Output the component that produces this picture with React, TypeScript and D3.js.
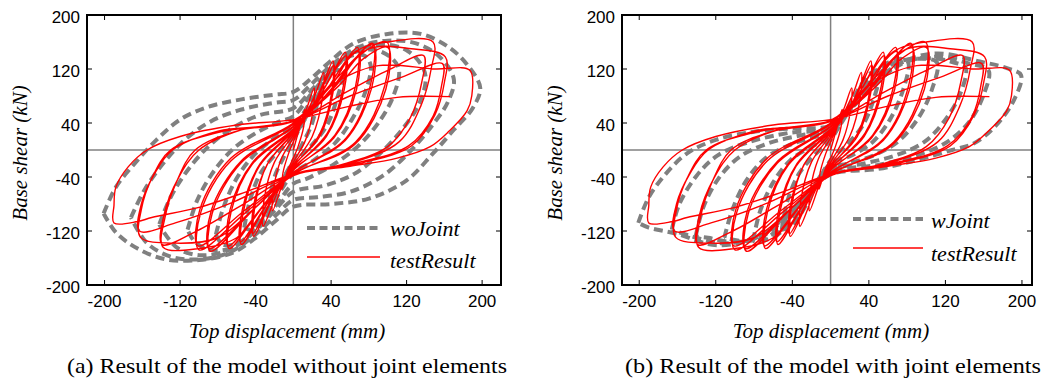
import React from "react";
import * as d3 from "d3";

type Pt = [number, number];

// tick values shared by both panels
const xTicks = [-200, -120, -40, 40, 120, 200];
const yTicks = [-200, -120, -40, 40, 120, 200];

// measured test result (same in both panels), one array per cycle, in drawing order
const testResult: Pt[][] = [
  [[0, 0], [6, 30], [12, 60], [11, 35], [5, 5], [0, -12], [-6, -30], [-12, -58], [-11, -34], [-5, -5], [0, 12]],
  [[8, 40], [15, 65], [22, 92], [21, 60], [13, 15], [0, -18], [-10, -45], [-22, -90], [-21, -58], [-13, -14], [0, 18]],
  [[14, 55], [24, 85], [32, 115], [31, 78], [20, 20], [0, -22], [-16, -60], [-32, -113], [-31, -74], [-20, -18], [0, 22]],
  [[20, 62], [32, 100], [42, 132], [41, 88], [28, 24], [0, -25], [-20, -66], [-42, -128], [-41, -86], [-28, -22], [0, 25]],
  [[22, 68], [34, 102], [43, 126], [42, 85], [28, 20], [0, -24], [-22, -70], [-43, -124], [-42, -82], [-27, -20], [0, 26]],
  [[26, 75], [42, 115], [55, 145], [53, 95], [36, 25], [0, -28], [-26, -76], [-55, -140], [-53, -92], [-36, -24], [0, 28]],
  [[28, 80], [44, 118], [56, 140], [54, 90], [35, 20], [0, -27], [-28, -80], [-56, -136], [-54, -88], [-35, -20], [0, 29]],
  [[32, 82], [52, 125], [68, 152], [66, 95], [44, 22], [0, -30], [-32, -82], [-68, -146], [-66, -92], [-44, -22], [0, 30]],
  [[34, 86], [54, 128], [69, 146], [67, 90], [43, 18], [0, -29], [-34, -86], [-69, -142], [-67, -88], [-43, -18], [0, 31]],
  [[40, 90], [62, 130], [84, 158], [82, 98], [56, 18], [0, -34], [-42, -88], [-88, -150], [-86, -94], [-56, -20], [0, 34]],
  [[42, 92], [64, 132], [85, 152], [83, 92], [55, 14], [0, -33], [-44, -90], [-89, -146], [-87, -90], [-55, -16], [0, 35]],
  [[45, 95], [70, 140], [99, 160], [97, 96], [66, 12], [0, -36], [-50, -92], [-100, -148], [-98, -92], [-66, -16], [0, 38]],
  [[48, 95], [74, 135], [100, 152], [98, 90], [65, 8], [0, -35], [-52, -90], [-101, -142], [-99, -88], [-66, -12], [0, 40]],
  [[40, 95], [65, 145], [100, 160], [148, 160], [146, 120], [135, 65], [112, 12], [60, -20], [0, -37], [-30, -80], [-60, -130],
    [-100, -146], [-138, -144], [-136, -100], [-124, -48], [-104, 0], [-60, 28], [0, 42]],
  [[55, 85], [100, 118], [138, 140], [136, 100], [124, 48], [100, 5], [50, -22], [0, -36], [-55, -82], [-105, -122],
    [-139, -140], [-137, -96], [-122, -42], [-100, 0], [-55, 30], [0, 43]],
  [[45, 105], [80, 150], [125, 150], [161, 138], [160, 100], [150, 52], [125, 6], [70, -20], [0, -38], [-40, -85],
    [-80, -130], [-125, -138], [-162, -129], [-161, -88], [-150, -42], [-130, 0], [-80, 26], [0, 43]],
  [[60, 80], [115, 108], [158, 128], [157, 95], [148, 50], [122, 6], [70, -18], [0, -36], [-65, -78], [-125, -108],
    [-163, -120], [-161, -80], [-147, -35], [-128, 0], [-80, 28], [0, 44]],
  [[45, 100], [90, 125], [150, 120], [187, 118], [189, 80], [184, 58], [165, 28], [145, 5], [110, -12], [60, -24],
    [0, -36], [-50, -62], [-100, -85], [-150, -100], [-165, -106], [-190, -108], [-190, -82], [-188, -55], [-175, -25],
    [-155, 0], [-120, 20], [-60, 37], [0, 45]],
  [[60, 65], [110, 78], [166, 79]],
];

// model without joint elements, one closed loop per amplitude
const woJoint: Pt[][] = [
  [[-201, -94], [-188, -55], [-168, -20], [-145, 15], [-120, 45], [-90, 64], [-55, 75], [-20, 82], [0, 86], [18, 105],
    [38, 130], [64, 158], [100, 172], [135, 172], [165, 152], [185, 125], [198, 92], [190, 62], [170, 30], [148, -5],
    [120, -45], [80, -72], [40, -80], [0, -84], [-18, -104], [-38, -128], [-64, -152], [-100, -163], [-135, -162],
    [-165, -146], [-188, -122], [-201, -94]],
  [[-172, -100], [-158, -60], [-138, -20], [-115, 15], [-88, 42], [-55, 60], [-20, 70], [0, 74], [18, 96], [40, 125],
    [68, 152], [100, 162], [130, 158], [155, 138], [170, 105], [164, 72], [148, 38], [125, 0], [95, -38], [60, -62],
    [25, -70], [0, -74], [-18, -96], [-40, -125], [-68, -152], [-100, -162], [-130, -158], [-155, -138], [-172, -100]],
  [[-142, -110], [-130, -70], [-112, -30], [-90, 5], [-65, 32], [-35, 52], [0, 62], [20, 90], [42, 122], [68, 148],
    [98, 156], [122, 146], [138, 120], [140, 100], [132, 65], [115, 30], [92, -5], [65, -35], [35, -52], [0, -62],
    [-20, -90], [-42, -122], [-68, -148], [-98, -156], [-122, -146], [-138, -120], [-142, -110]],
  [[-112, -118], [-102, -75], [-86, -35], [-65, 0], [-40, 25], [-15, 42], [0, 50], [20, 85], [42, 120], [65, 145],
    [88, 148], [105, 135], [112, 118], [106, 80], [90, 40], [68, 5], [42, -22], [15, -42], [0, -50], [-20, -85],
    [-42, -120], [-65, -145], [-88, -148], [-105, -135], [-112, -118]],
  [[-82, -125], [-74, -85], [-60, -42], [-42, -8], [-20, 18], [0, 35], [20, 75], [38, 112], [58, 138], [75, 140],
    [82, 125], [76, 85], [62, 45], [44, 10], [22, -15], [0, -35], [-20, -75], [-38, -112], [-58, -138], [-75, -140],
    [-82, -125]],
  [[-52, -115], [-46, -75], [-35, -35], [-18, -5], [0, 20], [18, 60], [32, 95], [45, 118], [52, 115], [46, 75],
    [35, 35], [18, 5], [0, -20], [-18, -60], [-32, -95], [-45, -118], [-52, -115]],
  [[-26, -80], [-20, -40], [-8, -5], [8, 35], [20, 65], [26, 80], [20, 40], [8, 5], [-8, -35], [-20, -65], [-26, -80]],
];

// model with joint elements
const wJoint: Pt[][] = [
  [[-201, -108], [-190, -70], [-172, -35], [-150, -5], [-120, 15], [-80, 27], [-40, 32], [0, 36], [20, 60], [45, 95],
    [75, 130], [111, 143], [156, 131], [185, 121], [199, 111], [192, 75], [172, 35], [150, 10], [127, 0], [90, -15],
    [50, -28], [0, -36], [-20, -60], [-45, -95], [-75, -128], [-119, -141], [-161, -124], [-190, -115], [-201, -108]],
  [[-166, -118], [-158, -80], [-140, -38], [-118, -8], [-85, 12], [-45, 25], [0, 33], [22, 62], [48, 100], [78, 130],
    [115, 138], [145, 128], [165, 118], [160, 82], [145, 42], [122, 12], [90, -8], [50, -22], [0, -33], [-22, -62],
    [-48, -100], [-78, -130], [-115, -138], [-145, -128], [-166, -118]],
  [[-141, -128], [-133, -85], [-117, -42], [-95, -10], [-65, 10], [-30, 22], [0, 30], [22, 62], [48, 102], [75, 130],
    [105, 136], [128, 130], [141, 122], [136, 85], [120, 45], [98, 12], [68, -8], [35, -20], [0, -30], [-22, -62],
    [-48, -102], [-75, -130], [-105, -136], [-128, -130], [-141, -128]],
  [[-111, -130], [-103, -90], [-88, -45], [-68, -12], [-42, 8], [-15, 20], [0, 26], [20, 60], [42, 100], [65, 128],
    [90, 135], [111, 130], [106, 90], [92, 48], [70, 12], [45, -8], [18, -20], [0, -26], [-20, -60], [-42, -100],
    [-65, -128], [-90, -135], [-111, -130]],
  [[-81, -135], [-74, -92], [-60, -48], [-42, -15], [-20, 5], [0, 20], [18, 55], [35, 95], [55, 125], [72, 135],
    [81, 130], [76, 90], [62, 45], [44, 12], [22, -8], [0, -20], [-18, -55], [-35, -95], [-55, -125], [-72, -135],
    [-81, -135]],
  [[-51, -118], [-45, -75], [-33, -35], [-15, -5], [0, 15], [16, 55], [30, 92], [43, 115], [51, 118], [45, 75],
    [33, 35], [15, 5], [0, -15], [-16, -55], [-30, -92], [-43, -115], [-51, -118]],
];

const modelNames = ["woJoint", "wJoint"];
const testName = "testResult";
const captions = [
  "(a) Result of the model without joint elements",
  "(b) Result of the model with joint elements",
];

const GRAY = "#808080";
const RED = "#ff0000";
const sans = "'Liberation Sans', Arial, sans-serif";
const serif = "'Liberation Serif', 'Times New Roman', serif";

type PanelProps = {
  x0: number; x1: number; xDomain: [number, number];
  model: Pt[][]; modelName: string; caption: string;
  yLabelX: number; yTitleX: number; titleCx: number; captionCx: number; captionLen: number;
  lg: { lx0: number; lx1: number; tx: number; dashY: number; redY: number; t1: number; t2: number };
  id: string;
};

const y0 = 15, y1 = 285;

function Panel(p: PanelProps) {
  const x = d3.scaleLinear().domain(p.xDomain).range([p.x0, p.x1]);
  const y = d3.scaleLinear().domain([-200, 200]).range([y1, y0]);
  const curve = d3.line<Pt>().x(d => x(d[0])).y(d => y(d[1])).curve(d3.curveCatmullRom.alpha(0.5));
  const redPts = testResult.flat() as Pt[];
  const tl = 5;
  return (
    <g>
      <defs>
        <clipPath id={p.id}>
          <rect x={p.x0} y={y0} width={p.x1 - p.x0} height={y1 - y0} />
        </clipPath>
      </defs>
      <g clipPath={`url(#${p.id})`}>
        <line x1={x(0)} x2={x(0)} y1={y0} y2={y1} stroke={GRAY} strokeWidth={1.5} />
        <line x1={p.x0} x2={p.x1} y1={y(0)} y2={y(0)} stroke={GRAY} strokeWidth={1.5} />
        {p.model.map((loop, i) => (
          <path key={i} d={curve(loop) || ""} fill="none" stroke={GRAY} strokeWidth={4} strokeDasharray="9 5" />
        ))}
        <path d={curve(redPts) || ""} fill="none" stroke={RED} strokeWidth={1.4} strokeLinejoin="round" />
      </g>
      {/* ticks */}
      {xTicks.map(t => (
        <g key={"x" + t}>
          <line x1={x(t)} x2={x(t)} y1={y1} y2={y1 - tl} stroke="#000" strokeWidth={1} />
          <line x1={x(t)} x2={x(t)} y1={y0} y2={y0 + tl} stroke="#000" strokeWidth={1} />
          <text x={x(t)} y={307} textAnchor="middle" fontFamily={sans} fontSize={17}>{t}</text>
        </g>
      ))}
      {yTicks.map(t => (
        <g key={"y" + t}>
          <line x1={p.x0} x2={p.x0 + tl} y1={y(t)} y2={y(t)} stroke="#000" strokeWidth={1} />
          <line x1={p.x1} x2={p.x1 - tl} y1={y(t)} y2={y(t)} stroke="#000" strokeWidth={1} />
          <text x={p.yLabelX} y={y(t) + 8} textAnchor="end" fontFamily={sans} fontSize={17}>{t}</text>
        </g>
      ))}
      <rect x={p.x0} y={y0} width={p.x1 - p.x0} height={y1 - y0} fill="none" stroke="#000" strokeWidth={2} />
      {/* legend */}
      <line x1={p.lg.lx0} x2={p.lg.lx1} y1={p.lg.dashY} y2={p.lg.dashY} stroke={GRAY} strokeWidth={4} strokeDasharray="8 4.5" />
      <text x={p.lg.tx} y={p.lg.t1} fontFamily={serif} fontStyle="italic" fontSize={22}>{p.modelName}</text>
      <line x1={p.lg.lx0} x2={p.lg.lx1} y1={p.lg.redY} y2={p.lg.redY} stroke={RED} strokeWidth={1.3} />
      <text x={p.lg.tx} y={p.lg.t2} fontFamily={serif} fontStyle="italic" fontSize={22}>{testName}</text>
      {/* titles */}
      <text transform={`translate(${p.yTitleX},153) rotate(-90)`} textAnchor="middle" fontFamily={serif}
        fontStyle="italic" fontSize={21}>Base shear (kN)</text>
      <text x={p.titleCx} y={338} textAnchor="middle" fontFamily={serif} fontStyle="italic" fontSize={21}>
        Top displacement (mm)
      </text>
      <text x={p.captionCx - p.captionLen / 2} y={373} fontFamily={serif} fontSize={21}
        textLength={p.captionLen} lengthAdjust="spacingAndGlyphs">{p.caption}</text>
    </g>
  );
}

export default function App() {
  return (
    <svg width={1043} height={380} style={{ position: "absolute", left: 0, top: 0, background: "#fff" }}>
      <rect width={1043} height={380} fill="#fff" />
      <Panel id="ca" x0={87} x1={501} xDomain={[-218.6, 220]} model={woJoint} modelName={modelNames[0]}
        caption={captions[0]} yLabelX={80} yTitleX={27} titleCx={287} captionCx={287} captionLen={440}
        lg={{ lx0: 307, lx1: 380, tx: 390, dashY: 228, redY: 257, t1: 236, t2: 268 }} />
      <Panel id="cb" x0={622} x1={1032} xDomain={[-218, 210.5]} model={wJoint} modelName={modelNames[1]}
        caption={captions[1]} yLabelX={615} yTitleX={562} titleCx={831} captionCx={833} captionLen={416}
        lg={{ lx0: 853, lx1: 923, tx: 931, dashY: 219, redY: 248, t1: 228, t2: 261 }} />
    </svg>
  );
}
